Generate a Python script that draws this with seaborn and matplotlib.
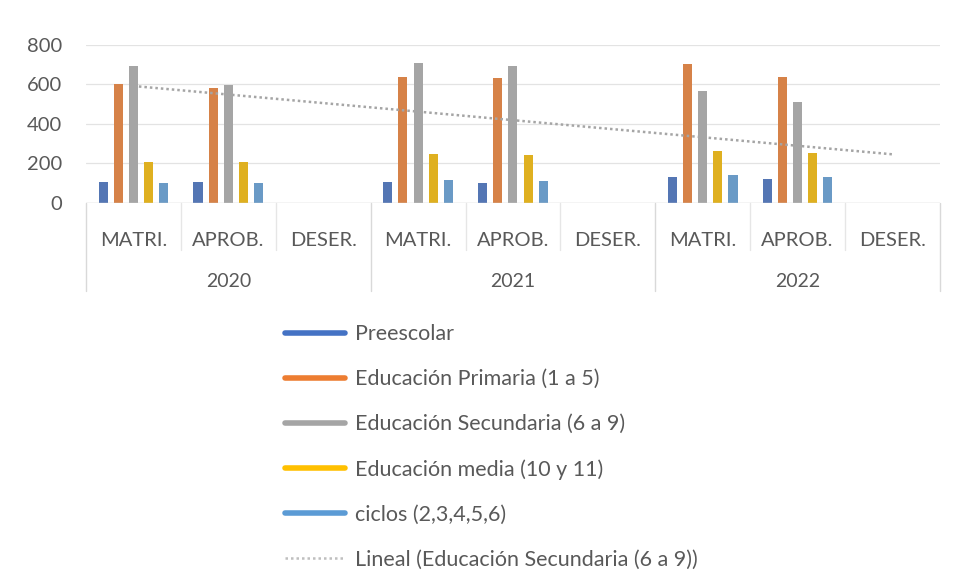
import numpy as np
import pandas as pd
import matplotlib.pyplot as plt
from matplotlib.lines import Line2D
import seaborn as sns

# Data
years = ['2020', '2021', '2022']
categorias = ['MATRI.', 'APROB.', 'DESER.']
niveles = ['Preescolar', 'Educación Primaria (1 a 5)', 'Educación Secundaria (6 a 9)',
           'Educación media (10 y 11)', 'ciclos (2,3,4,5,6)']
preescolar = [105, 105, 0, 105, 102, 0, 133, 122, 0]
primaria = [600, 580, 0, 635, 632, 0, 702, 635, 0]
secundaria = [692, 595, 0, 710, 695, 0, 565, 513, 0]
media = [208, 208, 0, 245, 240, 0, 262, 255, 0]
ciclos = [100, 100, 0, 115, 112, 0, 142, 133, 0]
colores = ['#4472C4', '#ED7D31', '#A5A5A5', '#FFC000', '#5B9BD5']
trend_label = 'Lineal (Educación Secundaria (6 a 9))'

keys = [f'{y} {c}' for y in years for c in categorias]
series = [preescolar, primaria, secundaria, media, ciclos]
rows = []
for nivel, vals in zip(niveles, series):
    for k, v in zip(keys, vals):
        rows.append({'cat': k, 'nivel': nivel, 'valor': v})
df = pd.DataFrame(rows)

sns.set_style('white')
plt.rcParams['font.family'] = ['Lato', 'DejaVu Sans']
txt = '#595959'

fig = plt.figure(figsize=(9.62, 5.83), dpi=100)
ax = fig.add_axes([0.0894, 0.652, 0.8876, 0.271])

sns.barplot(data=df, x='cat', y='valor', hue='nivel', order=keys, hue_order=niveles,
            palette=colores, width=0.8, gap=0.4, linewidth=0, ax=ax, legend=False)

# linear trend of Secundaria
xs = np.arange(len(keys))
m, b = np.polyfit(xs, secundaria, 1)
ax.plot(xs, m * xs + b, color='#A5A5A5', lw=1.8, ls=(0, (1, 1.2)))

ax.set_ylim(0, 800)
ax.set_xlim(-0.5, len(keys) - 0.5)
ax.set_yticks([0, 200, 400, 600, 800])
ax.yaxis.grid(True, color='#E3E3E3', lw=0.9)
ax.set_axisbelow(True)
for s in ax.spines.values():
    s.set_visible(False)
ax.axhline(0, color='#D9D9D9', lw=1)
ax.set_xlabel('')
ax.set_ylabel('')
ax.set_xticks(xs)
ax.set_xticklabels([c for y in years for c in categorias])
ax.tick_params(axis='x', length=0, pad=21, labelsize=14.5, labelcolor=txt)
ax.tick_params(axis='y', length=0, pad=17, labelsize=14.5, labelcolor=txt)

trans = ax.get_xaxis_transform()
for i, y in enumerate(years):
    ax.text(i * 3 + 1, -0.5, y, transform=trans, ha='center', va='center',
            fontsize=14, color=txt)
for xb in [-0.5, 2.5, 5.5, 8.5]:
    ax.plot([xb, xb], [0, -0.56], transform=trans, color='#D9D9D9', lw=1, clip_on=False)
for xb in [0.5, 1.5, 3.5, 4.5, 6.5, 7.5]:
    ax.plot([xb, xb], [0, -0.3], transform=trans, color='#E6E6E6', lw=1, clip_on=False)

handles = [Line2D([], [], color=c, lw=4) for c in colores]
handles.append(Line2D([], [], color='#BFBFBF', lw=1.8, ls=(0, (1, 1.2))))
fig.legend(handles, niveles + [trend_label], loc='upper left',
           bbox_to_anchor=(0.296, 0.444), frameon=False, fontsize=15.5,
           labelcolor=txt, handlelength=2.8, handletextpad=0.47,
           labelspacing=1.16, borderpad=0, borderaxespad=0)

fig.savefig('out.png', dpi=100)
